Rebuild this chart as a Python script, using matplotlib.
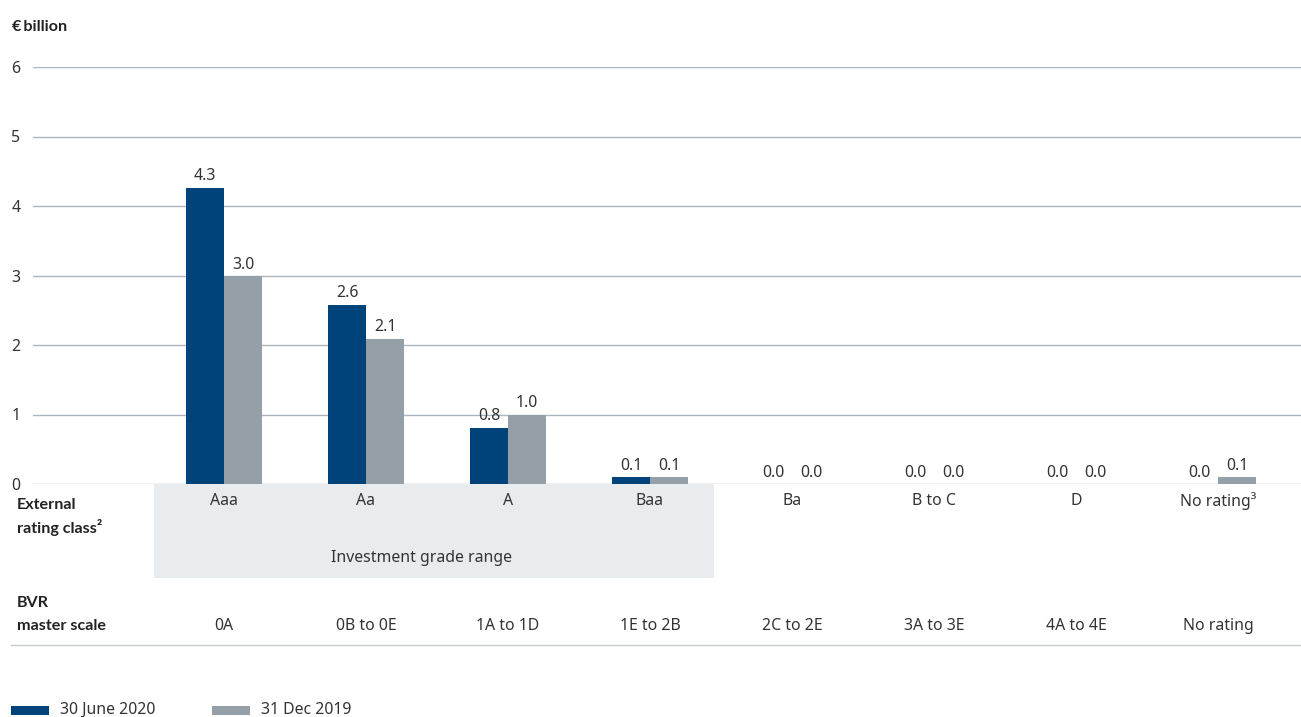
import matplotlib.pyplot as plt
import matplotlib.transforms as mtransforms
from matplotlib.patches import Rectangle

plt.rcParams['font.family'] = ['Noto Sans', 'DejaVu Sans']

ratings = ['Aaa', 'Aa', 'A', 'Baa', 'Ba', 'B to C', 'D', 'No rating³']
bvr_scale = ['0A', '0B to 0E', '1A to 1D', '1E to 2B', '2C to 2E', '3A to 3E', '4A to 4E', 'No rating']
jun_2020 = [4.26, 2.58, 0.81, 0.1, 0.0, 0.0, 0.0, 0.0]
dec_2019 = [2.99, 2.09, 1.0, 0.1, 0.0, 0.0, 0.0, 0.1]
series_names = ['30 June 2020', '31 Dec 2019']
yticks = [0, 1, 2, 3, 4, 5, 6]

DARK = '#00437a'
GREY = '#949fa8'
TEXT = '#333333'
GRID = '#a9b5c1'
FS = 11.4
HEAD = dict(family=['Lato', 'DejaVu Sans'], fontweight='bold', fontsize=11.6, color='#222222')

W, H = 1301, 717
fig = plt.figure(figsize=(W / 100, H / 100), dpi=100)


def fy(py):
    # pixel row (from top) -> figure fraction
    return 1 - py / H


def fx(px):
    return px / W


ax = fig.add_axes([fx(33), fy(484), 1 - fx(33), fy(67) - fy(484)])
ax.set_xlim(-1.345, 7.585)
ax.set_ylim(0, 6)
for s in ax.spines.values():
    s.set_visible(False)
ax.set_xticks([])
ax.set_yticks(yticks)
ax.tick_params(axis='y', length=0, pad=9, labelsize=FS, labelcolor=TEXT)
for y in yticks:
    ax.axhline(y, color=GRID, lw=1, zorder=0)

w = 0.268
xs = range(len(ratings))
ax.bar([x - w / 2 for x in xs], jun_2020, w, color=DARK, zorder=2)
ax.bar([x + w / 2 for x in xs], dec_2019, w, color=GREY, zorder=2)
for x, a, b in zip(xs, jun_2020, dec_2019):
    ax.text(x - w / 2, a + 0.05, f'{a:.1f}', ha='center', va='bottom', fontsize=FS, color=TEXT)
    ax.text(x + w / 2, b + 0.05, f'{b:.1f}', ha='center', va='bottom', fontsize=FS, color=TEXT)

# rows below the chart: x in data, y in figure fraction
tr = mtransforms.blended_transform_factory(ax.transData, fig.transFigure)
ax.add_patch(Rectangle((-0.493, fy(578)), 3.943, fy(484) - fy(578), transform=tr,
                       facecolor='#e9ecef', edgecolor='none', clip_on=False, zorder=0))
ax.text(1.39, fy(558), 'Investment grade range', transform=tr, ha='center', va='center',
        fontsize=FS, color=TEXT)
for x, r, b in zip(xs, ratings, bvr_scale):
    ax.text(x, fy(501), r, transform=tr, ha='center', va='center', fontsize=FS, color=TEXT)
    ax.text(x, fy(626), b, transform=tr, ha='center', va='center', fontsize=FS, color=TEXT)

fig.text(fx(17), fy(505), 'External', ha='left', va='center', **HEAD)
fig.text(fx(17), fy(528), 'rating class²', ha='left', va='center', **HEAD)
fig.text(fx(17), fy(603), 'BVR', ha='left', va='center', **HEAD)
fig.text(fx(17), fy(626), 'master scale', ha='left', va='center', **HEAD)
fig.text(fx(12), fy(27), '€\u2009billion', ha='left', va='center', **HEAD)

fig.add_artist(plt.Line2D([fx(11), 1], [fy(645), fy(645)], color='#c4cad0', lw=1))

# legend
for px, col, name in [(11, DARK, series_names[0]), (212, GREY, series_names[1])]:
    fig.add_artist(Rectangle((fx(px), fy(715)), fx(38), fy(706) - fy(715),
                             transform=fig.transFigure, facecolor=col, edgecolor='none'))
    fig.text(fx(px + 49), fy(710), name, ha='left', va='center', fontsize=FS, color=TEXT)

fig.savefig('out.png', dpi=100)
